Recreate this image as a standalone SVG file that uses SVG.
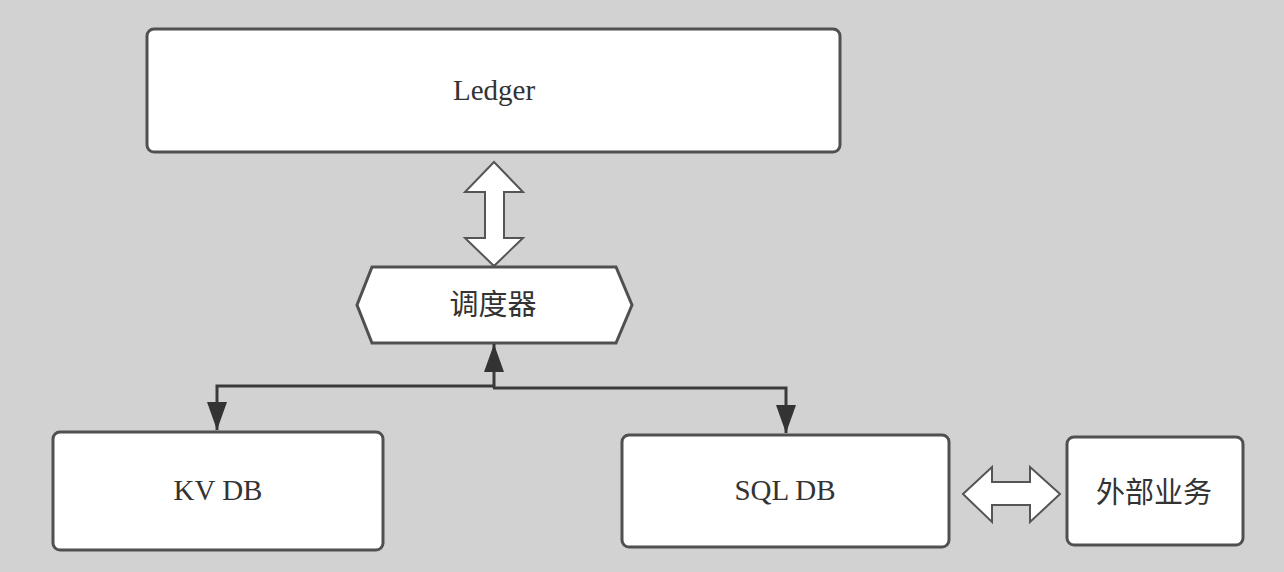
<svg xmlns="http://www.w3.org/2000/svg" width="1284" height="572" viewBox="0 0 1284 572">
  <style>
    .box { fill: #ffffff; stroke: #505050; stroke-width: 3; }
    .block { fill: #ffffff; stroke: #555555; stroke-width: 2; stroke-linejoin: miter; }
    .label { font-family: "Liberation Serif", "Noto Sans CJK SC", serif; font-size: 29px; fill: #333333; text-anchor: middle; }
    .conn { fill: none; stroke: #3a3a3a; stroke-width: 3; }
  </style>
  <defs>
    <marker id="arrow" viewBox="0 0 28 20" refX="28" refY="10" markerWidth="28" markerHeight="20" markerUnits="userSpaceOnUse" orient="auto">
      <path d="M0,0 L28,10 L0,20 z" fill="#333333"/>
    </marker>
  </defs>
  <rect width="1284" height="572" fill="#d2d2d2"/>

  <g id="ledger">
    <rect class="box" x="147" y="29" width="693" height="123" rx="7"/>
    <text class="label" x="494" y="100">Ledger</text>
  </g>

  <g id="scheduler">
    <polygon class="box" points="357,305 372,267 616,267 632,305 616,343 372,343"/>
    <text class="label" x="493" y="315">调度器</text>
  </g>

  <g id="kvdb">
    <rect class="box" x="53" y="432" width="330" height="118" rx="7"/>
    <text class="label" x="218" y="500">KV DB</text>
  </g>

  <g id="sqldb">
    <rect class="box" x="622" y="435" width="327" height="112" rx="7"/>
    <text class="label" x="785" y="500">SQL DB</text>
  </g>

  <g id="external">
    <rect class="box" x="1067" y="437" width="176" height="108" rx="7"/>
    <text class="label" x="1154" y="503">外部业务</text>
  </g>

  <g id="connectors">
    <polygon class="block" points="494,162 523,192 504,192 504,238 523,238 494,266 465,238 485,238 485,192 465,192"/>
    <polygon class="block" points="963,494 992,467 992,482 1030,482 1030,467 1060,494 1030,522 1030,505 992,505 992,522"/>
    <path class="conn" d="M494,388 V344" marker-end="url(#arrow)"/>
    <path class="conn" d="M495,386 H217 V430" marker-end="url(#arrow)"/>
    <path class="conn" d="M493,388 H786 V433" marker-end="url(#arrow)"/>
  </g>
</svg>
